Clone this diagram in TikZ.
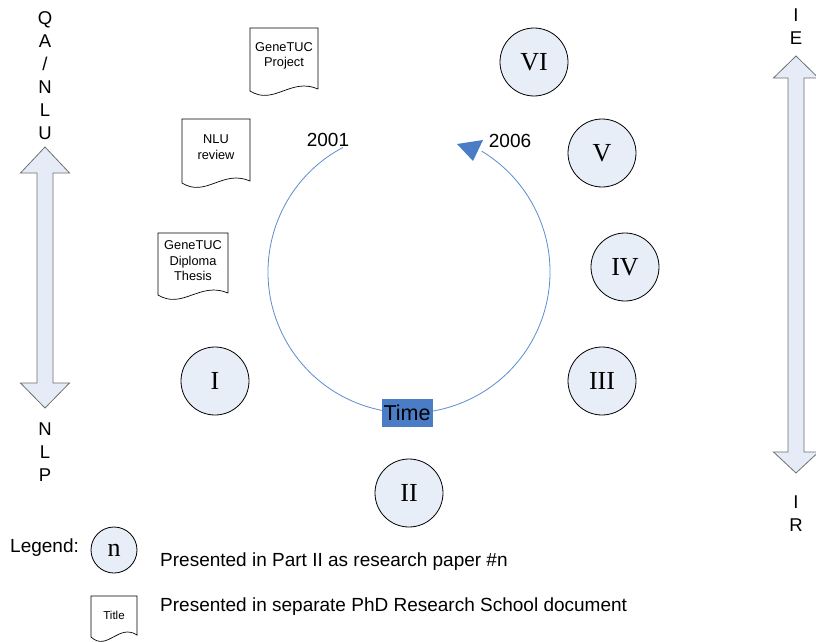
\documentclass[tikz,border=0pt]{standalone}
\usepackage{fontspec}
\setmainfont{Liberation Sans}
\newfontfamily\rmser{Liberation Serif}
\definecolor{paperfill}{HTML}{E8EEF8}
\definecolor{arrowfill}{HTML}{E6ECF7}
\definecolor{arrowline}{HTML}{6F6F6F}
\definecolor{arcblue}{HTML}{5B8BD0}
\definecolor{boxblue}{HTML}{4A7DC6}
\newcommand\mydocpath[4]{% x0, y0, x1, ybottom-left
  \path[docline] (#1,#2) -- (#3,#2) -- (#3,{#4-2})
    .. controls ({#1+0.6*(#3-#1)},{#4-14}) and ({#1+0.35*(#3-#1)},{#4+15}) .. (#1,#4) -- cycle;}
\newcommand\mydblarrow[6]{% cx, top tip, top base, bottom base, bottom tip, head half width
  \path[dblarrow] (#1,#2) -- ({#1+#6},#3) -- ({#1+8},#3) -- ({#1+8},#4) -- ({#1+#6},#4) -- (#1,#5)
    -- ({#1-#6},#4) -- ({#1-8},#4) -- ({#1-8},#3) -- ({#1-#6},#3) -- cycle;}
\begin{document}
\begin{tikzpicture}[x=1pt,y=-1pt,
  paper/.style={circle,draw=black,fill=paperfill,minimum size=68pt,inner sep=0pt,
    font=\rmser\fontsize{26}{26}\selectfont,line width=0.8pt},
  doctext/.style={align=center,font=\fontsize{12.8}{15.5}\selectfont,inner sep=0pt},
  docline/.style={draw=black,fill=white,line width=0.7pt},
  lbl/.style={font=\fontsize{19}{22}\selectfont,inner sep=0pt},
  stack/.style={align=center,font=\fontsize{18.5}{23}\selectfont,inner sep=0pt},
  dblarrow/.style={draw=arrowline,fill=arrowfill,line width=0.8pt},
  timeline/.style={draw=arcblue,line width=0.8pt}]
\useasboundingbox (0,0) rectangle (816,642);

% double arrows
\mydblarrow{45}{147}{173}{383}{408}{24.5}
\mydblarrow{796}{56}{78}{452}{473}{22.5}
\node[stack] (qa) at (45,76) {Q\\A\\/\\N\\L\\U};
\node[stack] (nlp) at (45,452) {N\\L\\P};
\node[stack] (ie) at (796,27) {I\\E};
\node[stack] (ir) at (796,514) {I\\R};

% time circle
\coordinate (tc) at (409,272);
\draw[timeline] (tc) ++(-118:141) arc[start angle=-118,end angle=-419,radius=141];
\fill[boxblue] (457,144) -- (483,140) -- (473,161) -- cycle;
\node[lbl] (y2001) at (328,140) {2001};
\node[lbl] (y2006) at (510,141) {2006};
\node[fill=boxblue,minimum width=51pt,minimum height=28pt,inner sep=0pt,
  font=\fontsize{21.5}{21.5}\selectfont] (time) at (407,413) {Time};

% documents
\mydocpath{250}{28}{318}{91}
\node[doctext] (proj) at (284,56) {GeneTUC\\Project};
\mydocpath{182}{119}{250}{183}
\node[doctext] (nlur) at (216,147) {NLU\\review};
\mydocpath{158}{233}{228}{295}
\node[doctext] (dipl) at (193,261) {GeneTUC\\Diploma\\Thesis};

% papers
\node[paper] (p1) at (215,381) {I};
\node[paper] (p2) at (409,493) {II};
\node[paper] (p3) at (602,381) {III};
\node[paper] (p4) at (625,267) {IV};
\node[paper] (p5) at (602,153) {V};
\node[paper] (p6) at (534,62) {VI};

% legend
\node[lbl,anchor=west] (leg) at (10,548) {Legend:};
\node[paper,minimum size=46pt] (pn) at (114,550) {n};
\node[lbl,anchor=west] (leg1) at (160,562) {Presented in Part II as research paper \#n};
\mydocpath{91}{596}{137}{637}
\node[doctext,font=\fontsize{11.5}{13}\selectfont] (ttl) at (114,615) {Title};
\node[lbl,anchor=west] (leg2) at (160,607) {Presented in separate PhD Research School document};
\end{tikzpicture}
\end{document}
